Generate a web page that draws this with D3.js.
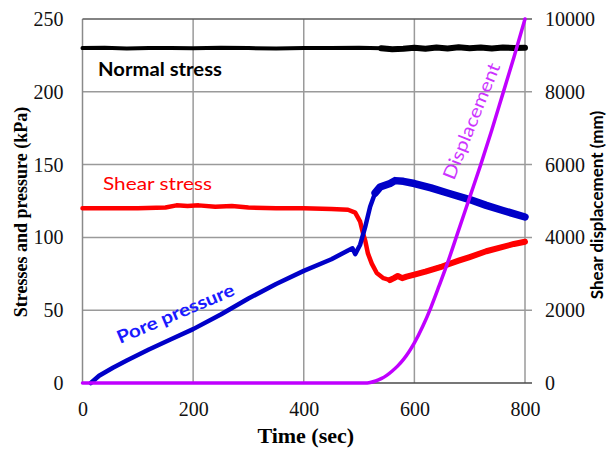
<!doctype html>
<html>
<head>
<meta charset="utf-8">
<script src="https://d3js.org/d3.v7.min.js"></script>
<style>
  body { margin: 0; background: #fff; }
  svg { display: block; }
</style>
</head>
<body>
<svg width="607" height="452"></svg>
<script>
// --- data ---
var xTicks = [0, 200, 400, 600, 800];
var yLeftTicks = [0, 50, 100, 150, 200, 250];
var yRightTicks = [0, 2000, 4000, 6000, 8000, 10000];

var normalT = [0, 40, 80, 120, 160, 200, 250, 300, 350, 400, 450, 500, 540, 560, 580, 600, 620, 640, 660, 680, 700, 720, 740, 760, 780, 800];
var normalV = [230, 230.2, 229.8, 230.1, 230, 229.9, 230.2, 230, 229.8, 230.1, 230, 230.2, 229.9, 229.2, 229.5, 230.3, 229.6, 230.4, 229.8, 230.6, 229.9, 230.5, 229.7, 230.4, 230.1, 230.3];

var shearT = [0, 50, 100, 150, 170, 190, 210, 240, 270, 300, 350, 400, 450, 480, 493, 502, 507, 511, 516, 523, 532, 544, 556, 563, 570, 578, 586, 600, 620, 650, 680, 700, 730, 760, 780, 800];
var shearV = [120, 120, 120, 120.5, 122, 121.5, 122, 121, 121.5, 120.5, 120, 120, 119.5, 119, 117, 110.8, 103, 98, 89, 82, 75.5, 72, 70.7, 72, 73.5, 72, 73, 74.5, 76.5, 80, 84, 86.5, 90.5, 93.5, 95.5, 97];

var poreT = [15, 30, 55, 80, 120, 160, 200, 250, 300, 350, 400, 450, 480, 488, 493, 502, 511, 520, 529, 538, 556, 565, 580, 600, 630, 660, 700, 730, 760, 800];
var poreV = [0, 5, 10.5, 15.5, 23, 30, 37, 47, 58, 68, 77, 85, 91, 92.5, 88.5, 95, 107, 121, 130.5, 134.6, 137, 139, 138.5, 137, 134, 130.5, 126, 122, 118.5, 114];

var dispT = [0, 510, 520, 530, 540, 550, 560, 570, 580, 590, 600, 615, 630, 645, 660, 680, 700, 720, 740, 760, 780, 800];
var dispV = [0, 0, 15, 55, 120, 210, 330, 470, 640, 850, 1100, 1550, 2080, 2680, 3300, 4200, 5100, 6000, 6950, 7950, 8950, 10000];

var svg = d3.select('svg'),
    margin = {top: 19, right: 82, bottom: 69, left: 82.5},
    width = +svg.attr('width') - margin.left - margin.right,
    height = +svg.attr('height') - margin.top - margin.bottom,
    g = svg.append('g').attr('transform', 'translate(' + margin.left + ',' + margin.top + ')');

var x = d3.scaleLinear().domain([0, 800]).range([0, width]);
var y = d3.scaleLinear().domain([0, 250]).range([height, 0]);
var y2 = d3.scaleLinear().domain([0, 10000]).range([height, 0]);

var serif = '"Liberation Serif", "Times New Roman", serif';
var sans = 'Lato, "Open Sans", sans-serif';

// grid
g.append('g')
  .selectAll('line')
  .data(xTicks.slice(1))
  .enter().append('line')
  .attr('x1', function(d) { return x(d); })
  .attr('x2', function(d) { return x(d); })
  .attr('y1', 0)
  .attr('y2', height)
  .attr('stroke', '#9a9a9a')
  .attr('stroke-width', 1.5);

g.append('g')
  .selectAll('line')
  .data(yLeftTicks.slice(1, -1))
  .enter().append('line')
  .attr('x1', 0)
  .attr('x2', width + 7)
  .attr('y1', function(d) { return y(d); })
  .attr('y2', function(d) { return y(d); })
  .attr('stroke', '#9a9a9a')
  .attr('stroke-width', 1.5);

// frame
g.append('line').attr('x1', 0).attr('x2', 0).attr('y1', 0).attr('y2', height)
  .attr('stroke', '#8a8a8a').attr('stroke-width', 1.5);
g.append('line').attr('x1', 0).attr('x2', width + 7).attr('y1', 0).attr('y2', 0)
  .attr('stroke', '#5a5a5a').attr('stroke-width', 1.5);
g.append('line').attr('x1', 0).attr('x2', width + 7).attr('y1', height).attr('y2', height)
  .attr('stroke', '#4a4a4a').attr('stroke-width', 1.5);

// axes (labels only)
var ax = g.append('g')
  .attr('transform', 'translate(0,' + height + ')')
  .call(d3.axisBottom(x).tickValues(xTicks).tickSize(0).tickPadding(19));
ax.select('.domain').remove();
ax.selectAll('text').attr('font-family', serif).attr('font-size', 20).attr('fill', '#111');

var ayl = g.append('g')
  .call(d3.axisLeft(y).tickValues(yLeftTicks).tickSize(0).tickPadding(19));
ayl.select('.domain').remove();
ayl.selectAll('text').attr('font-family', serif).attr('font-size', 20).attr('fill', '#111');

var ayr = g.append('g')
  .attr('transform', 'translate(' + width + ',0)')
  .call(d3.axisRight(y2).tickValues(yRightTicks).tickFormat(d3.format('d')).tickSize(0).tickPadding(20));
ayr.select('.domain').remove();
ayr.selectAll('text').attr('font-family', serif).attr('font-size', 20).attr('fill', '#111');

// axis titles
svg.append('text')
  .attr('x', margin.left + width / 2 + 2)
  .attr('y', 443)
  .attr('text-anchor', 'middle')
  .attr('font-family', serif)
  .attr('font-weight', 'bold')
  .attr('font-size', 22)
  .text('Time (sec)');

svg.append('text')
  .attr('transform', 'translate(27,212) rotate(-90)')
  .attr('text-anchor', 'middle')
  .attr('font-family', serif)
  .attr('font-weight', 'bold')
  .attr('font-size', 18)
  .text('Stresses and pressure (kPa)');

svg.append('text')
  .attr('transform', 'translate(603,205) rotate(-90)')
  .attr('text-anchor', 'middle')
  .attr('font-family', sans)
  .attr('font-weight', 'bold')
  .attr('font-size', 17)
  .text('Shear displacement (mm)');

// series
function zip(ts, vs) { return ts.map(function(t, i) { return {t: t, v: vs[i]}; }); }
var line = d3.line().x(function(d) { return x(d.t); }).y(function(d) { return y(d.v); });
var line2 = d3.line().curve(d3.curveMonotoneX).x(function(d) { return x(d.t); }).y(function(d) { return y2(d.v); });

function draw(data, color, w, gen) {
  g.append('path')
    .datum(data)
    .attr('fill', 'none')
    .attr('stroke', color)
    .attr('stroke-width', w)
    .attr('stroke-linejoin', 'round')
    .attr('stroke-linecap', 'round')
    .attr('d', gen || line);
}

var normal = zip(normalT, normalV);
draw(normal, '#000', 4);
draw(normal.filter(function(d) { return d.t >= 540; }), '#000', 6);

var shear = zip(shearT, shearV);
draw(shear, '#ff0000', 4.5);
draw(shear.filter(function(d) { return d.t >= 556; }), '#ff0000', 6);

var pore = zip(poreT, poreV);
draw(pore, '#0000c8', 4.5);
draw(pore.filter(function(d) { return d.t >= 529; }), '#0000c8', 7.5);

draw(zip(dispT, dispV), '#c000ff', 3.5, line2);

// in-plot labels
function label(txt, tr, len, color, weight) {
  svg.append('text')
    .attr('transform', tr)
    .attr('font-family', sans)
    .attr('font-weight', weight)
    .attr('font-size', 18)
    .attr('fill', color)
    .attr('textLength', len)
    .attr('lengthAdjust', 'spacingAndGlyphs')
    .text(txt);
}
label('Normal stress', 'translate(98,76)', 124, '#000', 'bold');
label('Shear stress', 'translate(103,190)', 109, '#ff0000', 'normal');
label('Pore pressure', 'translate(120,344) rotate(-23)', 126, '#1a1aff', 'bold');
label('Displacement', 'translate(454,181) rotate(-68)', 124, '#cc33ff', 'normal');
</script>
</body>
</html>
